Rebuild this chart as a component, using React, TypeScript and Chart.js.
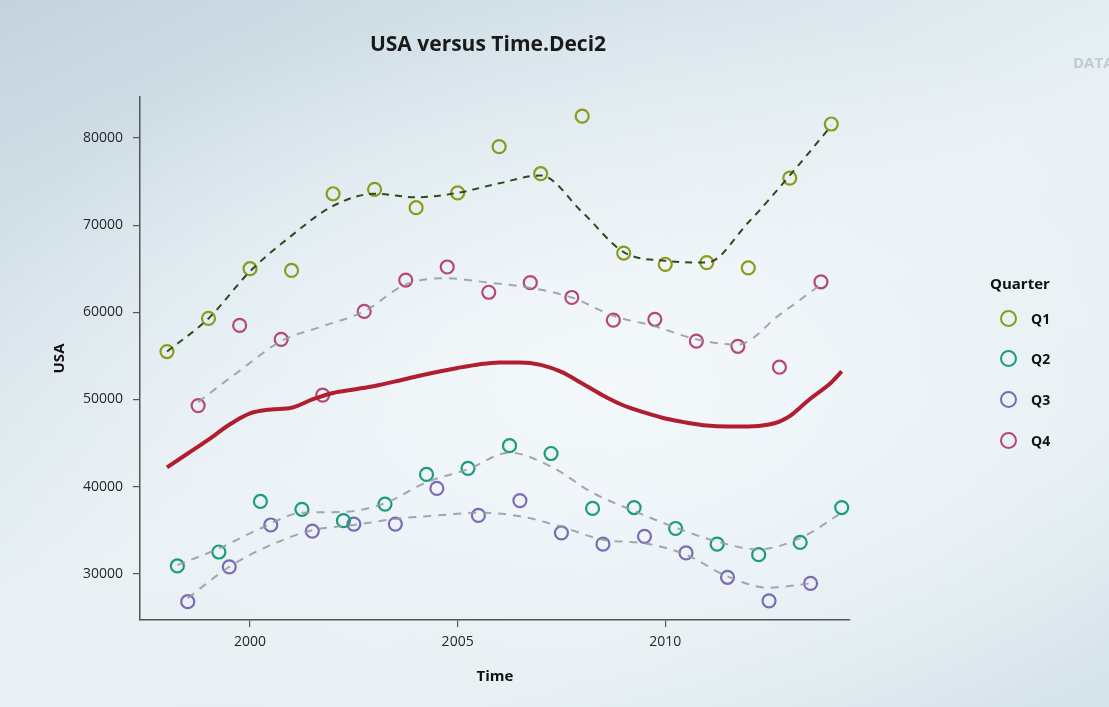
import React, { useEffect, useRef } from "react";
import { Chart, registerables } from "chart.js";

Chart.register(...registerables);

// ---- Data ----
const q1Time = [1998, 1999, 2000, 2001, 2002, 2003, 2004, 2005, 2006, 2007, 2008, 2009, 2010, 2011, 2012, 2013, 2014];
const q1Values = [55500, 59300, 65000, 64800, 73600, 74100, 72000, 73700, 79000, 75900, 82500, 66800, 65500, 65700, 65100, 75400, 81600];
const q1Smooth = [55500, 59300, 64700, 68800, 72200, 73600, 73200, 73700, 74800, 75700, 71500, 66900, 65900, 65700, 70300, 75700, 81400];

const q2Time = [1998.25, 1999.25, 2000.25, 2001.25, 2002.25, 2003.25, 2004.25, 2005.25, 2006.25, 2007.25, 2008.25, 2009.25, 2010.25, 2011.25, 2012.25, 2013.25, 2014.25];
const q2Values = [30900, 32500, 38300, 37400, 36100, 38000, 41400, 42100, 44700, 43800, 37500, 37600, 35200, 33400, 32200, 33600, 37600];
const q2Smooth = [31000, 32900, 35200, 37000, 37100, 38100, 40500, 42000, 43900, 42300, 39300, 37200, 35300, 33700, 32800, 34100, 37000];

const q3Time = [1998.5, 1999.5, 2000.5, 2001.5, 2002.5, 2003.5, 2004.5, 2005.5, 2006.5, 2007.5, 2008.5, 2009.5, 2010.5, 2011.5, 2012.5, 2013.5];
const q3Values = [26800, 30800, 35600, 34900, 35700, 35700, 39800, 36700, 38400, 34700, 33400, 34300, 32400, 29600, 26900, 28900];
const q3Smooth = [27200, 30800, 33300, 35000, 35600, 36300, 36700, 37000, 36600, 35400, 33900, 33500, 32200, 29700, 28400, 28900];

const q4Time = [1998.75, 1999.75, 2000.75, 2001.75, 2002.75, 2003.75, 2004.75, 2005.75, 2006.75, 2007.75, 2008.75, 2009.75, 2010.75, 2011.75, 2012.75, 2013.75];
const q4Values = [49300, 58500, 56900, 50500, 60100, 63700, 65200, 62300, 63400, 61700, 59100, 59200, 56700, 56100, 53700, 63500];
const q4Smooth = [49700, 53300, 56700, 58400, 60100, 63200, 63900, 63400, 62800, 61700, 59600, 58400, 56900, 56300, 59700, 63200];

const trendTime = [1998, 1998.5, 1999, 1999.5, 2000, 2000.5, 2001, 2001.5, 2002, 2002.5, 2003, 2003.5, 2004, 2004.5, 2005, 2005.5, 2006, 2006.5, 2007, 2007.5, 2008, 2008.5, 2009, 2009.5, 2010, 2010.5, 2011, 2011.5, 2012, 2012.5, 2012.75, 2013, 2013.25, 2013.5, 2014, 2014.25];
const trendValues = [42200, 43800, 45400, 47100, 48400, 48850, 49050, 50000, 50750, 51150, 51550, 52070, 52640, 53160, 53620, 54020, 54250, 54250, 53970, 53160, 51840, 50460, 49310, 48510, 47820, 47360, 47010, 46900, 46900, 47130, 47470, 48080, 49080, 50110, 51950, 53220];

const xTicks = [2000, 2005, 2010];
const yTicks = [30000, 40000, 50000, 60000, 70000, 80000];

const quarterLabels = ["Q1", "Q2", "Q3", "Q4"];
const quarterColors = ["#8e9a1c", "#1c9c7a", "#7a6cb4", "#b44878"];

const FONT = "'Open Sans', 'DejaVu Sans', sans-serif";

const toXY = (xs: number[], ys: number[]) => xs.map((x, i) => ({ x, y: ys[i] }));

export default function App() {
  const ref = useRef<HTMLCanvasElement>(null);

  useEffect(() => {
    if (!ref.current) return;
    const smoothGrey = "rgba(150,152,160,0.85)";
    const chart = new Chart(ref.current, {
      type: "scatter",
      data: {
        datasets: [
          {
            label: "Q1 smooth",
            data: toXY(q1Time, q1Smooth),
            showLine: true,
            borderColor: "#2c4a1e",
            borderWidth: 2,
            borderDash: [7, 6],
            pointRadius: 0,
            cubicInterpolationMode: "monotone",
          },
          {
            label: "Q2 smooth",
            data: toXY(q2Time, q2Smooth),
            showLine: true,
            borderColor: smoothGrey,
            borderWidth: 2,
            borderDash: [8, 7],
            pointRadius: 0,
            cubicInterpolationMode: "monotone",
          },
          {
            label: "Q3 smooth",
            data: toXY(q3Time, q3Smooth),
            showLine: true,
            borderColor: smoothGrey,
            borderWidth: 2,
            borderDash: [8, 7],
            pointRadius: 0,
            cubicInterpolationMode: "monotone",
          },
          {
            label: "Q4 smooth",
            data: toXY(q4Time, q4Smooth),
            showLine: true,
            borderColor: smoothGrey,
            borderWidth: 2,
            borderDash: [8, 7],
            pointRadius: 0,
            cubicInterpolationMode: "monotone",
          },
          {
            label: "Trend",
            data: toXY(trendTime, trendValues),
            showLine: true,
            borderColor: "#b01e30",
            borderWidth: 4,
            pointRadius: 0,
            cubicInterpolationMode: "monotone",
          },
          ...[q1Values, q2Values, q3Values, q4Values].map((vals, i) => ({
            label: quarterLabels[i],
            data: toXY([q1Time, q2Time, q3Time, q4Time][i], vals),
            showLine: false,
            pointRadius: 6.5,
            pointBorderWidth: 2.2,
            pointBorderColor: quarterColors[i],
            pointBackgroundColor: "rgba(0,0,0,0)",
            pointHoverRadius: 6.5,
          })),
        ],
      },
      options: {
        animation: false,
        responsive: false,
        layout: { padding: { top: 97, right: 259, left: 0, bottom: 0 } },
        plugins: {
          legend: { display: false },
          tooltip: { enabled: false },
          title: { display: false },
        },
        scales: {
          x: {
            type: "linear",
            min: 1997.35,
            max: 2014.45,
            afterBuildTicks: (s: any) => {
              s.ticks = xTicks.map((v) => ({ value: v }));
            },
            afterFit: (s: any) => {
              s.height = 87;
            },
            ticks: {
              color: "#262626",
              font: { family: FONT, size: 14 },
              padding: 7,
              callback: (v: any) => String(v),
            },
            grid: {
              drawOnChartArea: false,
              drawTicks: true,
              tickLength: 7,
              color: "#555",
              lineWidth: 1.2,
            },
            border: { display: true, color: "#555", width: 1.5 },
            title: {
              display: true,
              text: "Time",
              color: "#111",
              font: { family: FONT, size: 15, weight: "bold" },
              padding: { top: 0, bottom: 21 },
            },
          },
          y: {
            type: "linear",
            min: 24700,
            max: 84700,
            afterBuildTicks: (s: any) => {
              s.ticks = yTicks.map((v) => ({ value: v }));
            },
            afterFit: (s: any) => {
              s.width = 140;
            },
            ticks: {
              color: "#262626",
              font: { family: FONT, size: 14 },
              padding: 10,
              callback: (v: any) => String(v),
            },
            grid: {
              drawOnChartArea: false,
              drawTicks: true,
              tickLength: 7,
              color: "#555",
              lineWidth: 1.2,
            },
            border: { display: true, color: "#555", width: 1.5 },
            title: {
              display: true,
              text: "USA",
              color: "#111",
              font: { family: FONT, size: 15, weight: "bold" },
              padding: { top: 51, bottom: 0 },
            },
          },
        },
      },
    } as any);
    return () => chart.destroy();
  }, []);

  return (
    <div
      style={{
        position: "fixed",
        left: 0,
        top: 0,
        width: 1109,
        height: 707,
        overflow: "hidden",
        background:
          "radial-gradient(ellipse 60% 55% at 55% 55%, rgba(245,249,251,0.9) 0%, rgba(240,246,249,0.6) 45%, rgba(240,246,249,0) 100%), linear-gradient(155deg, #c3d3dd 0%, #d9e5ec 28%, #e9f1f4 50%, #e6eff3 75%, #d5e2ea 100%)",
        fontFamily: FONT,
      }}
    >
      <canvas ref={ref} width={1109} height={707} style={{ position: "absolute", left: 0, top: 0 }} />
      <div
        style={{
          position: "absolute",
          left: 0,
          width: 976,
          top: 30,
          textAlign: "center",
          fontSize: 21,
          fontWeight: "bold",
          lineHeight: "26px",
          color: "#1a1a1a",
        }}
      >
        USA versus Time.Deci2
      </div>
      <div
        style={{
          position: "absolute",
          left: 1073,
          top: 52,
          fontSize: 15,
          fontWeight: "bold",
          color: "rgba(120,135,150,0.35)",
          letterSpacing: 0,
        }}
      >
        DATA
      </div>
      <div
        style={{
          position: "absolute",
          left: 990,
          top: 272,
          fontSize: 15,
          fontWeight: "bold",
          lineHeight: "22px",
          color: "#111",
        }}
      >
        Quarter
      </div>
      {quarterLabels.map((q, i) => (
        <div key={q} style={{ position: "absolute", left: 1000, top: 308 + i * 40.7, height: 20, display: "flex", alignItems: "center" }}>
          <div
            style={{
              width: 13,
              height: 13,
              borderRadius: "50%",
              border: `2.2px solid ${quarterColors[i]}`,
              boxSizing: "content-box",
            }}
          />
          <span style={{ marginLeft: 14, fontSize: 14, fontWeight: "bold", color: "#111" }}>{q}</span>
        </div>
      ))}
    </div>
  );
}
